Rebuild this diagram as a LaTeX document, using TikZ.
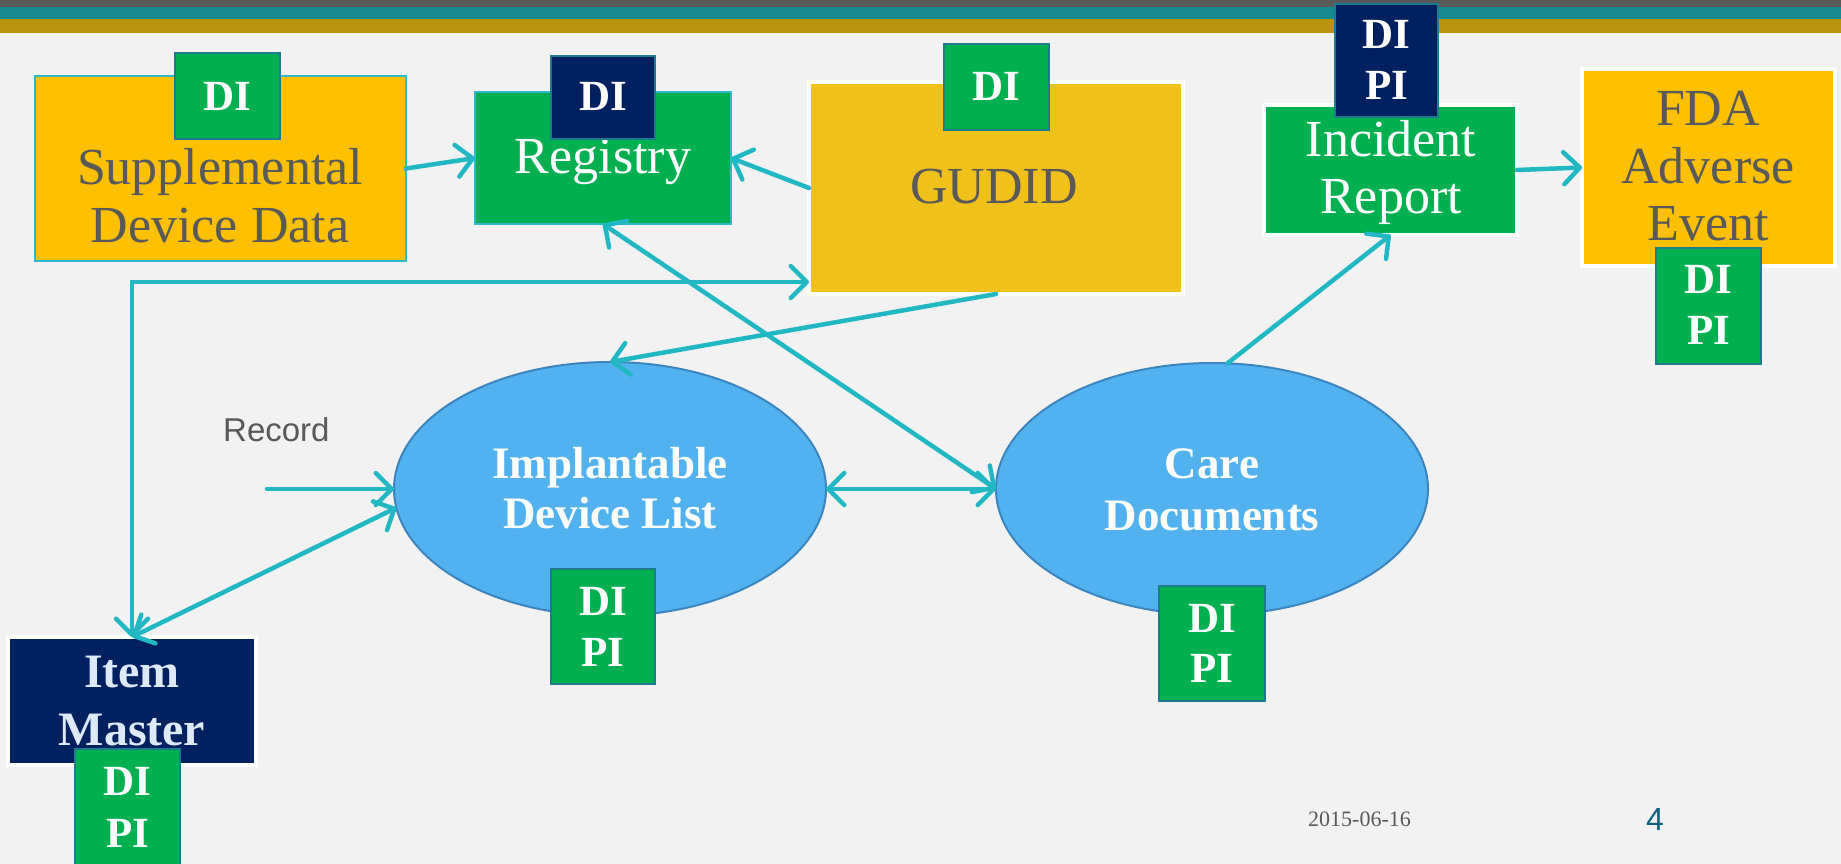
\documentclass[tikz,border=0pt]{standalone}
\usepackage{fontspec}
\setmainfont{Liberation Serif}
\newfontfamily\sansf{Liberation Sans}
\usetikzlibrary{arrows.meta,shapes.geometric}
\definecolor{bgc}{HTML}{F2F2F2}
\definecolor{bandgray}{HTML}{595959}
\definecolor{bandteal}{HTML}{178A90}
\definecolor{bandgold}{HTML}{B8930E}
\definecolor{connc}{HTML}{22B8C3}
\definecolor{yel}{HTML}{FFC000}
\definecolor{gud}{HTML}{F0C11B}
\definecolor{grn}{HTML}{00B050}
\definecolor{navyc}{HTML}{002060}
\definecolor{ellf}{HTML}{52B2EF}
\definecolor{elld}{HTML}{3C85BE}
\definecolor{bdg}{HTML}{1C7B8C}
\definecolor{lteal}{HTML}{2DB9C9}
\definecolor{txtg}{HTML}{595959}
\definecolor{imt}{HTML}{DCEAF7}
\definecolor{pgnum}{HTML}{0E5F7E}
\newcommand\szMain{\fontsize{52}{60}\selectfont}
\newcommand\szBadge{\bfseries\fontsize{43}{50}\selectfont}
\newcommand\szEll{\bfseries\fontsize{45}{52}\selectfont}
\newcommand\szItem{\bfseries\fontsize{48}{56}\selectfont}
\tikzset{
  sbox/.style={rectangle, inner sep=0pt, outer sep=0pt},
  sz/.style 2 args={minimum width=#1pt, minimum height=#2pt},
  wbox/.style={sbox, draw=white, line width=4pt},
  tbox/.style={sbox, draw=lteal, line width=2.5pt},
  badge/.style={sbox, draw=bdg, line width=2.5pt},
  ell/.style={ellipse, inner sep=0pt, outer sep=0pt, fill=ellf, draw=elld, line width=2pt},
  ln/.style={anchor=base, inner sep=0pt, outer sep=0pt},
  mtxt/.style={ln, font=\szMain},
  btxt/.style={ln, font=\szBadge, text=white},
  etxt/.style={ln, font=\szEll, text=white},
  conn/.style={draw=connc, line width=4.5pt, line cap=round},
  >={Straight Barb[length=16pt,width=32pt,round]}
}
\begin{document}
\begin{tikzpicture}[x=1pt,y=-1pt]
\clip (0,0) rectangle (1841,864);
\fill[bgc] (0,0) rectangle (1841,864);
% top bands
\fill[bandgray] (0,0) rectangle (1841,7);
\fill[bandteal] (0,7) rectangle (1841,19);
\fill[bandgold] (0,19) rectangle (1841,33);

% boxes
\node[tbox, sz={371}{185}, fill=yel] (sdd) at (220.5,168.5) {};
\node[tbox, sz={256}{132}, fill=grn] (reg) at (603,158) {};
\node[wbox, sz={374}{212}, fill=gud] (gudid) at (996,188) {};
\node[wbox, sz={253}{130}, fill=grn] (inc) at (1390.5,170) {};
\node[wbox, sz={253}{197}, fill=yel] (fda) at (1708.5,167.5) {};
\node[wbox, sz={248}{128}, fill=navyc] (item) at (132,701) {};
\node[ell, minimum width=432pt, minimum height=254pt] (idl) at (610,489) {};
\node[ell, minimum width=432pt, minimum height=252pt] (care) at (1212,489) {};

% box texts
\node[mtxt, text=txtg] (sddt1) at (220,184) {Supplemental};
\node[mtxt, text=txtg] (sddt2) at (220,242) {Device Data};
\node[mtxt, text=white] (regt) at (603,173) {Registry};
\node[mtxt, text=txtg] (gudidt) at (994,203) {GUDID};
\node[mtxt, text=white] (inct1) at (1391,157) {Incident};
\node[mtxt, text=white] (inct2) at (1391,213) {Report};
\node[mtxt, text=txtg] (fdat1) at (1708,125) {FDA};
\node[mtxt, text=txtg] (fdat2) at (1708,183) {Adverse};
\node[mtxt, text=txtg] (fdat3) at (1708,240) {Event};
\node[ln, font=\szItem, text=imt] (itemt1) at (132,687) {Item};
\node[ln, font=\szItem, text=imt] (itemt2) at (132,745) {Master};
\node[etxt] (idlt1) at (610,478) {Implantable};
\node[etxt] (idlt2) at (610,528) {Device List};
\node[etxt] (caret1) at (1212,478) {Care};
\node[etxt] (caret2) at (1212,530) {Documents};

% free texts
\node[anchor=base west, inner sep=0pt, font=\sansf\fontsize{33}{40}\selectfont, text=txtg] (record) at (223,441) {Record};
\node[anchor=base west, inner sep=0pt, font=\fontsize{22}{26}\selectfont, text=txtg] (date) at (1308,826) {2015-06-16};
\node[anchor=base west, inner sep=0pt, font=\sansf\fontsize{32}{38}\selectfont, text=pgnum] (pg) at (1646,830) {4};

% connectors
\coordinate (rec) at (267,489);
\draw[conn,->] (sdd.east) -- (reg.west);
\draw[conn,->] (gudid.west) -- (reg.east);
\draw[conn,->] (inc.east) -- (fda.west);
\draw[conn,->] (care.83) -- (inc.south);
\draw[conn,->] (gudid.south) -- (idl.north);
\draw[conn,<->] (reg.south) -- (care.west);
\draw[conn,<->] (idl.east) -- (care.west);
\draw[conn,->] (rec) -- (idl.west);
\draw[conn,<->] (item.north) -- (idl.185);
\draw[conn,<->] (item.north) |- (gudid.west |- 0,282);

% badges
\node[badge, sz={105}{86}, fill=grn] (sddb) at (227.5,96) {};
\node[btxt] (sddbt) at (227.5,111) {DI};
\node[badge, sz={104}{83}, fill=navyc] (regb) at (603,97.5) {};
\node[btxt] (regbt) at (603,111) {DI};
\node[badge, sz={105}{86}, fill=grn] (gudidb) at (996.5,87) {};
\node[btxt] (gudidbt) at (996.5,101) {DI};
\node[badge, sz={103}{113}, fill=navyc] (incb) at (1386.5,60.5) {};
\node[btxt] (incbt1) at (1386.5,49) {DI};
\node[btxt] (incbt2) at (1386.5,100) {PI};
\node[badge, sz={105}{116}, fill=grn] (fdab) at (1708.5,306) {};
\node[btxt] (fdabt1) at (1708.5,293) {DI};
\node[btxt] (fdabt2) at (1708.5,344) {PI};
\node[badge, sz={105}{120}, fill=grn] (itemb) at (127.5,809) {};
\node[btxt] (itembt1) at (127.5,795) {DI};
\node[btxt] (itembt2) at (127.5,847) {PI};
\node[badge, sz={104}{115}, fill=grn] (idlb) at (603,626.5) {};
\node[btxt] (idlbt1) at (603,615) {DI};
\node[btxt] (idlbt2) at (603,666) {PI};
\node[badge, sz={106}{115}, fill=grn] (careb) at (1212,643.5) {};
\node[btxt] (carebt1) at (1212,632) {DI};
\node[btxt] (carebt2) at (1212,682) {PI};
\end{tikzpicture}
\end{document}
